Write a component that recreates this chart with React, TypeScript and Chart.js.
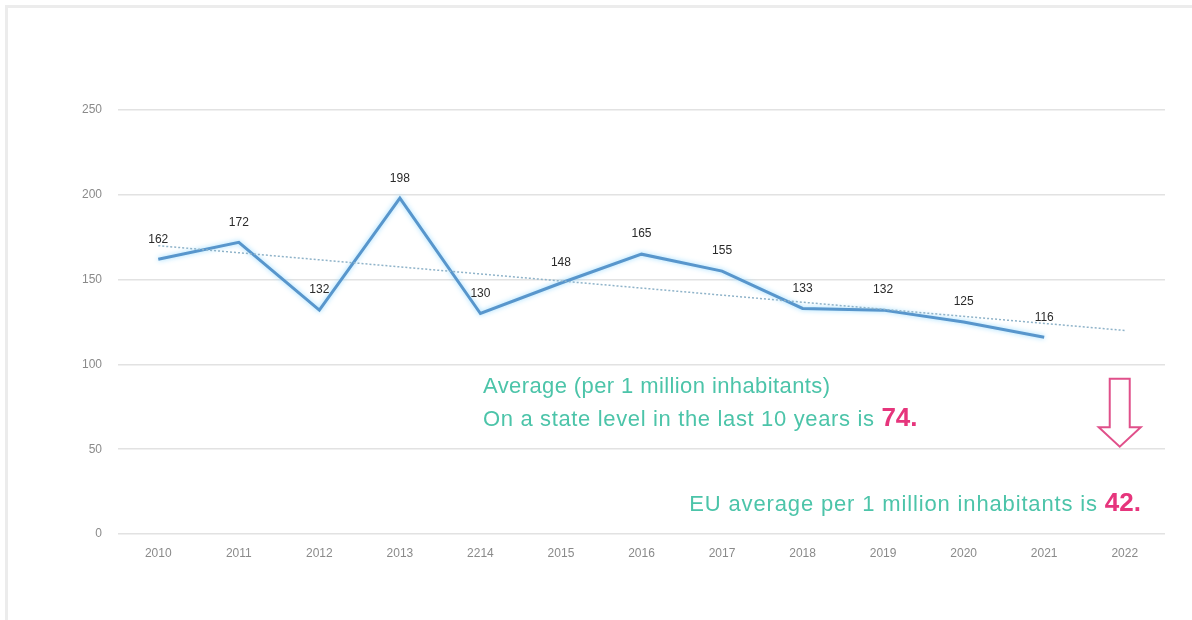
import React, { useEffect, useRef } from "react";
import { Chart, registerables } from "chart.js";

Chart.register(...registerables);

const years = ["2010", "2011", "2012", "2013", "2214", "2015", "2016", "2017", "2018", "2019", "2020", "2021", "2022"];
const values: (number | null)[] = [162, 172, 132, 198, 130, 148, 165, 155, 133, 132, 125, 116, null];
const trendValues: (number | null)[] = [170, null, null, null, null, null, null, null, null, null, null, null, 120];
const yMin = 0;
const yMax = 250;
const yStep = 50;

const TEAL = "#4cc4a9";
const PINK = "#e6357c";

const dataLabels = {
  id: "dataLabels",
  afterDatasetsDraw(chart: any) {
    const meta = chart.getDatasetMeta(1);
    const ctx = chart.ctx;
    ctx.save();
    ctx.font = "12px 'Liberation Sans', Arial, sans-serif";
    ctx.fillStyle = "#2a2a2a";
    ctx.textAlign = "center";
    ctx.textBaseline = "middle";
    meta.data.forEach((pt: any, i: number) => {
      const v = values[i];
      if (v == null) return;
      ctx.fillText(String(v), pt.x, pt.y - 20);
    });
    ctx.restore();
  },
};

const glow = {
  id: "glow",
  beforeDatasetDraw(chart: any, args: any) {
    if (args.index !== 1) return;
    chart.ctx.save();
    chart.ctx.shadowColor = "rgba(140,215,255,0.9)";
    chart.ctx.shadowBlur = 5;
  },
  afterDatasetDraw(chart: any, args: any) {
    if (args.index !== 1) return;
    chart.ctx.restore();
  },
};

const arrow = {
  id: "arrow",
  afterDraw(chart: any) {
    const xs = chart.scales.x;
    const ys = chart.scales.y;
    const cx = xs.getPixelForValue(12) - 5;
    const top = ys.getPixelForValue(91.5);
    const base = ys.getPixelForValue(63);
    const tip = ys.getPixelForValue(51.5);
    const sw = 10;
    const hw = 21;
    const ctx = chart.ctx;
    ctx.save();
    ctx.beginPath();
    ctx.moveTo(cx - sw, top);
    ctx.lineTo(cx + sw, top);
    ctx.lineTo(cx + sw, base);
    ctx.lineTo(cx + hw, base);
    ctx.lineTo(cx, tip);
    ctx.lineTo(cx - hw, base);
    ctx.lineTo(cx - sw, base);
    ctx.closePath();
    ctx.fillStyle = "#fff";
    ctx.fill();
    ctx.strokeStyle = "#e0508a";
    ctx.lineWidth = 2;
    ctx.stroke();
    ctx.restore();
  },
};

function ChartView() {
  const ref = useRef<HTMLCanvasElement | null>(null);
  useEffect(() => {
    if (!ref.current) return;
    const chart = new Chart(ref.current, {
      type: "line",
      data: {
        labels: years,
        datasets: [
          {
            label: "Trend",
            data: trendValues,
            borderColor: "#8fb3c9",
            borderWidth: 1.5,
            borderDash: [2, 2],
            pointRadius: 0,
            spanGaps: true,
            fill: false,
          },
          {
            label: "Value",
            data: values,
            borderColor: "#5896cc",
            borderWidth: 3,
            pointRadius: 0,
            tension: 0,
            fill: false,
          },
        ],
      },
      options: {
        animation: false,
        responsive: false,
        maintainAspectRatio: false,
        layout: { padding: { left: 0, right: 27, top: 110, bottom: 46 } },
        plugins: { legend: { display: false }, tooltip: { enabled: false } },
        scales: {
          x: {
            offset: true,
            grid: { display: false, drawTicks: false },
            border: { display: false },
            ticks: {
              padding: 12,
              color: "#8a8a8a",
              font: { size: 12, family: "'Liberation Sans', Arial, sans-serif" },
              maxRotation: 0,
            },
            afterFit(scale: any) {
              scale.height = 40;
            },
          },
          y: {
            min: yMin,
            max: yMax,
            grid: { color: "#e2e2e2", lineWidth: 1.5, drawTicks: false },
            border: { display: false },
            ticks: {
              stepSize: yStep,
              padding: 16,
              color: "#8a8a8a",
              font: { size: 12, family: "'Liberation Sans', Arial, sans-serif" },
            },
            afterFit(scale: any) {
              scale.width = 118;
            },
          },
        },
      },
      plugins: [glow, dataLabels, arrow],
    });
    return () => chart.destroy();
  }, []);
  return <canvas ref={ref} width={1192} height={620} style={{ position: "absolute", left: 0, top: 0 }} />;
}

const textStyle: React.CSSProperties = {
  position: "absolute",
  fontFamily: "'Liberation Sans', Arial, sans-serif",
  fontSize: 22,
  letterSpacing: "0.4px",
  color: TEAL,
  lineHeight: "26px",
  whiteSpace: "nowrap",
};

const bigStyle: React.CSSProperties = {
  color: PINK,
  fontWeight: "bold",
  fontSize: 26,
  letterSpacing: "0px",
};

export default function App() {
  return (
    <div
      style={{
        position: "absolute",
        left: 0,
        top: 0,
        width: 1192,
        height: 620,
        overflow: "hidden",
        background: "#fff",
      }}
    >
      <div
        style={{
          position: "absolute",
          left: 5,
          top: 5,
          width: 1300,
          height: 700,
          borderTop: "3px solid #ececec",
          borderLeft: "3px solid #ececec",
        }}
      />
      <ChartView />
      <div style={{ ...textStyle, left: 483, top: 373 }}>Average (per 1 million inhabitants)</div>
      <div style={{ ...textStyle, left: 483, top: 404, letterSpacing: "0.65px" }}>
        On a state level in the last 10 years is <span style={bigStyle}>74.</span>
      </div>
      <div style={{ ...textStyle, right: 51, top: 489, textAlign: "right", letterSpacing: "0.85px" }}>
        EU average per 1 million inhabitants is <span style={bigStyle}>42.</span>
      </div>
    </div>
  );
}
